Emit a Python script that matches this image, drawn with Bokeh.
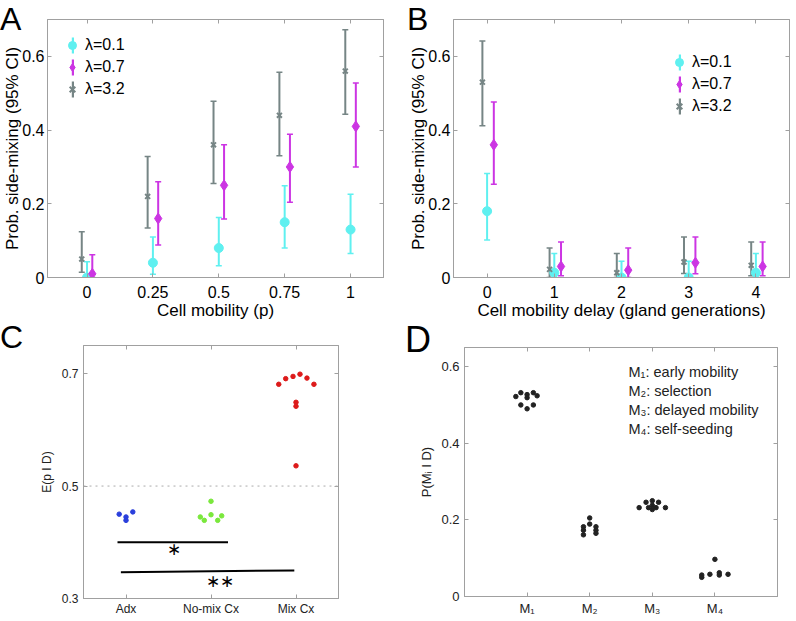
import numpy as np
from bokeh.plotting import figure
from bokeh.layouts import column, row
from bokeh.models import (ColumnDataSource, Whisker, TeeHead, Legend, LegendItem,
                          Label, Span, LinearAxis, FixedTicker, Range1d, GridBox, Div)
from bokeh.embed import file_html
from bokeh.resources import INLINE

FONT = "Liberation Sans"

# ---------------- data: panel A ----------------
a_mobility = [0, 0.25, 0.5, 0.75, 1]
a_tick_labels = ["0", "0.25", "0.5", "0.75", "1"]
a_l01 = [0.0, 0.04, 0.08, 0.15, 0.13]
a_l01_lo = [0.0, 0.009, 0.032, 0.08, 0.065]
a_l01_hi = [0.043, 0.11, 0.163, 0.249, 0.226]
a_l07 = [0.01, 0.16, 0.25, 0.30, 0.41]
a_l07_lo = [0.0, 0.088, 0.159, 0.204, 0.30]
a_l07_hi = [0.062, 0.26, 0.36, 0.389, 0.528]
a_l32 = [0.05, 0.22, 0.36, 0.44, 0.56]
a_l32_lo = [0.014, 0.134, 0.255, 0.33, 0.443]
a_l32_hi = [0.124, 0.328, 0.478, 0.557, 0.672]

# ---------------- data: panel B ----------------
b_delay = [0, 1, 2, 3, 4]
b_tick_labels = ["0", "1", "2", "3", "4"]
b_l01 = [0.18, 0.013, 0.0, 0.0, 0.013]
b_l01_lo = [0.102, 0.0, 0.0, 0.0, 0.0]
b_l01_hi = [0.282, 0.065, 0.044, 0.044, 0.065]
b_l07 = [0.36, 0.03, 0.02, 0.04, 0.03]
b_l07_lo = [0.253, 0.005, 0.0, 0.01, 0.005]
b_l07_hi = [0.476, 0.096, 0.08, 0.11, 0.096]
b_l32 = [0.53, 0.022, 0.013, 0.042, 0.033]
b_l32_lo = [0.412, 0.0, 0.0, 0.011, 0.005]
b_l32_hi = [0.642, 0.08, 0.065, 0.11, 0.096]

series_labels = ["λ=0.1", "λ=0.7", "λ=3.2"]
ab_y_ticks = [0, 0.2, 0.4, 0.6]
ab_y_tick_labels = ["0", "0.2", "0.4", "0.6"]

# ---------------- data: panel C ----------------
c_groups = ["Adx", "No-mix Cx", "Mix Cx"]
c_group_pos = [1, 2, 3]
c_adx = [0.450, 0.445, 0.439, 0.454]
c_adx_jitter = [-0.08, 0.0, 0.0, 0.08]
c_nomix = [0.445, 0.439, 0.473, 0.449, 0.439, 0.447]
c_nomix_jitter = [-0.126, -0.079, 0.0, 0.0, 0.079, 0.126]
c_mix = [0.681, 0.691, 0.695, 0.699, 0.692, 0.681, 0.649, 0.642, 0.536]
c_mix_jitter = [-0.203, -0.121, -0.035, 0.047, 0.129, 0.211, 0.0, 0.0, 0.0]
c_sig_x0 = [0.9, 0.94]
c_sig_x1 = [2.2, 2.98]
c_sig_y0 = [0.40, 0.3465]
c_sig_y1 = [0.40, 0.350]
c_star_x = [1.56, 2.1]
c_star_y = [0.387, 0.331]
c_star_text = ["∗", "∗∗"]
c_ref_level = 0.5
c_y_ticks = [0.3, 0.5, 0.7]
c_y_tick_labels = ["0.3", "0.5", "0.7"]

# ---------------- data: panel D ----------------
d_models = ["M₁", "M₂", "M₃", "M₄"]
d_model_pos = [1, 2, 3, 4]
d_m1 = [0.522, 0.532, 0.527, 0.519, 0.532, 0.524, 0.500, 0.490, 0.500]
d_m1_jitter = [-0.18, -0.10, 0.0, 0.0, 0.10, 0.16, -0.10, 0.0, 0.10]
d_m2 = [0.182, 0.173, 0.161, 0.205, 0.189, 0.182, 0.173, 0.165]
d_m2_jitter = [-0.10, -0.10, -0.10, 0.0, 0.0, 0.10, 0.10, 0.10]
d_m3 = [0.232, 0.246, 0.232, 0.250, 0.238, 0.227, 0.232, 0.246, 0.232]
d_m3_jitter = [-0.21, -0.10, -0.06, 0.0, 0.0, 0.0, 0.06, 0.10, 0.21]
d_m4 = [0.056, 0.050, 0.058, 0.097, 0.062, 0.056, 0.058]
d_m4_jitter = [-0.21, -0.21, -0.08, 0.0, 0.07, 0.07, 0.21]
d_notes = ["M₁: early mobility", "M₂: selection", "M₃: delayed mobility", "M₄: self-seeding"]
d_y_ticks = [0, 0.2, 0.4, 0.6]
d_y_tick_labels = ["0", "0.2", "0.4", "0.6"]

panel_letters = ["A", "B", "C", "D"]

# ---------------- styling ----------------
CYAN = "#5ff0f0"
MAGENTA = "#cc35e3"
GREY = "#768585"
FRAME = "#a0a0a0"


def style(p, xticks, xlabels, yticks, ylabels, tick_size, label_size, text_color,
          xstand, ystand, xlab_stand=0, ylab_stand=0):
    p.grid.visible = False
    p.outline_line_color = FRAME
    p.outline_line_width = 1
    p.background_fill_color = "white"
    p.border_fill_color = "white"
    for ax in (p.xaxis[0], p.yaxis[0]):
        ax.major_tick_in = 4
        ax.major_tick_out = 0
        ax.minor_tick_line_color = None
        ax.axis_line_color = FRAME
        ax.major_tick_line_color = FRAME
        ax.major_label_text_font = FONT
        ax.major_label_text_font_size = tick_size
        ax.major_label_text_color = text_color
        ax.axis_label_text_font = FONT
        ax.axis_label_text_font_size = label_size
        ax.axis_label_text_font_style = "normal"
        ax.axis_label_text_color = text_color
    p.xaxis[0].ticker = FixedTicker(ticks=xticks)
    p.xaxis[0].major_label_overrides = dict(zip(xticks, xlabels))
    p.yaxis[0].ticker = FixedTicker(ticks=yticks)
    p.yaxis[0].major_label_overrides = dict(zip(yticks, ylabels))
    p.xaxis[0].major_label_standoff = xstand
    p.yaxis[0].major_label_standoff = ystand
    p.xaxis[0].axis_label_standoff = xlab_stand
    p.yaxis[0].axis_label_standoff = ylab_stand
    # mirrored tick marks on top and right (no labels)
    for ticks, side in ((xticks, "above"), (yticks, "right")):
        ax = LinearAxis(ticker=FixedTicker(ticks=ticks),
                        major_label_overrides={t: "" for t in ticks},
                        major_label_text_font_size="8px",
                        major_label_standoff=0, major_tick_in=4, major_tick_out=0,
                        minor_tick_line_color=None, axis_line_color=FRAME,
                        major_tick_line_color=FRAME)
        p.add_layout(ax, side)


def add_series(p, xs, off, ys, lo, hi, color, marker, size, lw):
    xpos = np.asarray(xs, dtype=float) + off
    src = ColumnDataSource(dict(x=xpos, y=ys, lo=lo, hi=hi))
    w = Whisker(source=src, base="x", lower="lo", upper="hi", dimension="height",
                line_color=color, line_width=2, level="underlay",
                upper_head=TeeHead(size=6, line_color=color, line_width=1.5),
                lower_head=TeeHead(size=6, line_color=color, line_width=1.5))
    p.add_layout(w)
    # zero-height bars at the points: invisible in the plot, give the legend its error-bar symbol
    bar = p.vbar(x="x", bottom="y", top="y", width=0, source=src,
                 fill_color=color, line_color=None)
    r = p.scatter("x", "y", source=src, marker=marker, size=size,
                  fill_color=color, line_color=color, line_width=lw)
    return r, bar


def add_legends(p, marks, bars, cx, vy):
    p.add_layout(Legend(items=[LegendItem(label=" ", renderers=[b]) for b in bars],
                        location=(cx - 1.5, vy), glyph_width=3, glyph_height=20,
                        label_height=20, spacing=2, padding=0, margin=0,
                        label_text_font_size="16px",
                        border_line_alpha=0, background_fill_alpha=0))
    p.add_layout(Legend(items=[LegendItem(label=l, renderers=[m]) for l, m in zip(series_labels, marks)],
                        location=(cx - 10, vy), glyph_width=20, glyph_height=20, label_height=20,
                        spacing=2, padding=0, margin=0, label_standoff=3,
                        label_text_font=FONT, label_text_font_size="16px",
                        label_text_color="black",
                        border_line_alpha=0, background_fill_alpha=0))


# ---------------- panel A ----------------
pA = figure(width=400, height=322, x_range=Range1d(-0.15, 1.125), y_range=Range1d(0, 0.7),
            output_backend="svg", toolbar_location=None,
            min_border_left=46, min_border_right=17, min_border_top=19, min_border_bottom=45,
            x_axis_label="Cell mobility (p)", y_axis_label="Prob. side-mixing (95% CI)")
style(pA, a_mobility, a_tick_labels, ab_y_ticks, ab_y_tick_labels, "16px", "17px", "black",
      xstand=8, ystand=3, ylab_stand=-3)
ra1, ba1 = add_series(pA, a_mobility, 0.0, a_l01, a_l01_lo, a_l01_hi, CYAN, "circle", 9, 1)
ra2, ba2 = add_series(pA, a_mobility, 0.02, a_l07, a_l07_lo, a_l07_hi, MAGENTA, "diamond", 11, 1)
ra3, ba3 = add_series(pA, a_mobility, -0.02, a_l32, a_l32_lo, a_l32_hi, GREY, "x", 7, 2)
add_legends(pA, [ra1, ra2, ra3], [ba1, ba2, ba3], 25, 178)

# ---------------- panel B ----------------
pB = figure(width=390, height=322, x_range=Range1d(-0.5, 4.5), y_range=Range1d(0, 0.7),
            output_backend="svg", toolbar_location=None,
            min_border_left=53, min_border_right=1, min_border_top=19, min_border_bottom=45,
            x_axis_label="Cell mobility delay (gland generations)",
            y_axis_label="Prob. side-mixing (95% CI)")
style(pB, b_delay, b_tick_labels, ab_y_ticks, ab_y_tick_labels, "16px", "17px", "black",
      xstand=8, ystand=3, ylab_stand=-3)
rb1, bb1 = add_series(pB, b_delay, 0.0, b_l01, b_l01_lo, b_l01_hi, CYAN, "circle", 9, 1)
rb2, bb2 = add_series(pB, b_delay, 0.1, b_l07, b_l07_lo, b_l07_hi, MAGENTA, "diamond", 11, 1)
rb3, bb3 = add_series(pB, b_delay, -0.07, b_l32, b_l32_lo, b_l32_hi, GREY, "x", 7, 2)
add_legends(pB, [rb1, rb2, rb3], [bb1, bb2, bb3], 226, 161)

# ---------------- panel C ----------------
pC = figure(width=400, height=296, x_range=Range1d(0.5, 3.5), y_range=Range1d(0.3, 0.75),
            output_backend="svg", toolbar_location=None,
            min_border_left=83, min_border_right=62, min_border_top=23, min_border_bottom=17,
            y_axis_label="E(p I D)")
style(pC, c_group_pos, c_groups, c_y_ticks, c_y_tick_labels, "12px", "12px", "#222222",
      xstand=3, ystand=5, ylab_stand=5)
pC.add_layout(Span(location=c_ref_level, dimension="width", line_color="#aaaaaa",
                   line_dash="dotted", line_width=1))
for grp, vals, jit, col in ((c_group_pos[0], c_adx, c_adx_jitter, "#2a3fdc"),
                            (c_group_pos[1], c_nomix, c_nomix_jitter, "#7ae83c"),
                            (c_group_pos[2], c_mix, c_mix_jitter, "#dd1a1a")):
    pC.scatter(x=grp + np.asarray(jit), y=vals, size=4.5, fill_color=col, line_color=col)
pC.segment(x0=c_sig_x0, y0=c_sig_y0, x1=c_sig_x1, y1=c_sig_y1, line_color="black", line_width=2)
pC.text(x=c_star_x, y=c_star_y, text=c_star_text, text_align="center", text_baseline="middle",
        text_font_size="17px", text_color="black")

# ---------------- panel D ----------------
pD = figure(width=390, height=296, x_range=Range1d(0, 5), y_range=Range1d(0, 0.65),
            output_backend="svg", toolbar_location=None,
            min_border_left=64, min_border_right=13, min_border_top=25, min_border_bottom=21,
            y_axis_label="P(Mᵢ I D)")
style(pD, d_model_pos, d_models, d_y_ticks, d_y_tick_labels, "13px", "13px", "#222222",
      xstand=4, ystand=5, ylab_stand=4)
for grp, vals, jit in ((d_model_pos[0], d_m1, d_m1_jitter), (d_model_pos[1], d_m2, d_m2_jitter),
                       (d_model_pos[2], d_m3, d_m3_jitter), (d_model_pos[3], d_m4, d_m4_jitter)):
    pD.scatter(x=grp + np.asarray(jit), y=vals, size=4.5, fill_color="#222222", line_color="#222222")
for i, note in enumerate(d_notes):
    pD.add_layout(Label(x=164, y=225 - 19.3 * i, x_units="screen", y_units="screen", text=note,
                        text_font=FONT, text_font_size="14.5px", text_color="#222222",
                        text_baseline="middle"))


# ---------------- panel letters (overlaid on each panel, one grid cell per panel) ----------------
def with_letter(p, ch, size, margin):
    html = ('<div style="font-family:\'Liberation Sans\',Arial,sans-serif;'
            f'font-size:{size}px;line-height:{size}px;color:#000;">{ch}</div>')
    d = Div(text=html, width=44, height=44, margin=margin, styles={"z-index": "10"})
    return GridBox(children=[(p, 0, 0), (d, 0, 0)], spacing=0)


gA = with_letter(pA, panel_letters[0], 32, (3, 0, 0, 0))
gB = with_letter(pB, panel_letters[1], 32, (3, 0, 0, 7))
gC = with_letter(pC, panel_letters[2], 32, (-1, 0, 0, 0))
gD = with_letter(pD, panel_letters[3], 36, (0, 0, 0, 5))

layout = column(row(gA, gB, spacing=0), row(gC, gD, spacing=0), spacing=0)

open("out.html", "w").write(file_html(layout, INLINE))
